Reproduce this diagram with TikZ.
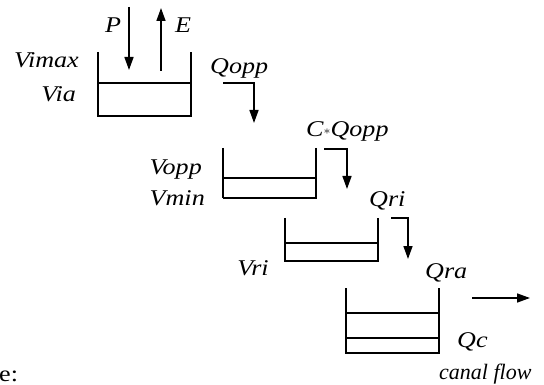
\documentclass[tikz,border=0pt]{standalone}
\usepackage{fontspec}
\setmainfont{Liberation Serif}
\usepackage{tikz}
\usetikzlibrary{arrows.meta}
\newcommand{\wide}[1]{\scalebox{1.16}[1]{#1}}

\begin{document}
\begin{tikzpicture}[
    x=1pt, y=-1pt,
    wall/.style={line width=1.5pt},
    arrow/.style={-{Triangle[length=13pt, width=9pt]}, line width=1.5pt},
    lbl/.style={font={\fontsize{22.5}{24}\selectfont\itshape}, inner sep=0pt},
    note/.style={font={\fontsize{22}{24}\selectfont\itshape}, inner sep=0pt}
]
    \useasboundingbox (0, 0) rectangle (544, 385);

    % Upper reservoir
    \draw[wall] (98, 52) -- (98, 116) -- (191, 116) -- (191, 52);
    \draw[wall] (98, 83) -- (191, 83);
    \node[lbl, anchor=base east] (vimax) at (79, 68) {\wide{Vimax}};
    \node[lbl, anchor=base east] (via) at (76, 102) {\wide{Via}};

    % Rain and evaporation
    \coordinate (pin) at (129, 7);
    \coordinate (pout) at (129, 70);
    \coordinate (ein) at (161, 71);
    \coordinate (eout) at (161, 8);
    \draw[arrow] (pin) -- (pout);
    \draw[arrow] (ein) -- (eout);
    \node[lbl, anchor=base] (p) at (113, 33) {\wide{P}};
    \node[lbl, anchor=base] (e) at (183, 33) {\wide{E}};

    % Outflow 1
    \node[lbl, anchor=base west] (qopp) at (210, 74) {\wide{Qopp}};
    \coordinate (q1s) at (223, 83);
    \coordinate (q1e) at (254, 123);
    \draw[arrow] (q1s) -| (q1e);

    % Second reservoir
    \draw[wall] (223, 148) -- (223, 198);
    \draw[wall] (223, 198) -- (316, 198);
    \draw[wall] (316, 148) -- (316, 199);
    \draw[wall] (223, 178) -- (316, 178);
    \node[lbl, anchor=base east] (vopp) at (202, 175) {\wide{Vopp}};
    \node[lbl, anchor=base east] (vmin) at (205, 206) {\wide{Vmin}};
    \node[lbl, anchor=base west] (cqopp) at (306, 137)
        {\wide{C\raisebox{0.2ex}{\fontsize{13}{13}\selectfont$\ast$}Qopp}};
    \coordinate (q2s) at (324, 149);
    \coordinate (q2e) at (347, 189);
    \draw[arrow] (q2s) -| (q2e);

    % Third reservoir
    \draw[wall] (285, 218) -- (285, 261) -- (378, 261) -- (378, 218);
    \draw[wall] (285, 243) -- (378, 243);
    \node[lbl, anchor=base west] (qri) at (369, 207) {\wide{Qri}};
    \node[lbl, anchor=base] (vri) at (253, 276) {\wide{Vri}};
    \coordinate (q3s) at (391, 218);
    \coordinate (q3e) at (408, 259);
    \draw[arrow] (q3s) -| (q3e);

    % Canal reservoir
    \node[lbl, anchor=base west] (qra) at (425, 278) {\wide{Qra}};
    \draw[wall] (346, 288) -- (346, 353) -- (439, 353) -- (439, 288);
    \draw[wall] (346, 313) -- (439, 313);
    \draw[wall] (346, 338) -- (439, 338);
    \node[lbl, anchor=base west] (qc) at (457, 347) {\wide{Qc}};
    \coordinate (cs) at (472, 298);
    \coordinate (ce) at (530, 298);
    \draw[arrow] (cs) -- (ce);
    \node[note, anchor=base west] (canal) at (439, 379) {canal flow};

    % Cut text
    \node[font={\fontsize{22.5}{24}\selectfont}, inner sep=0pt, anchor=base west] (cut) at (-1, 381) {\wide{e:}};
\end{tikzpicture}
\end{document}
